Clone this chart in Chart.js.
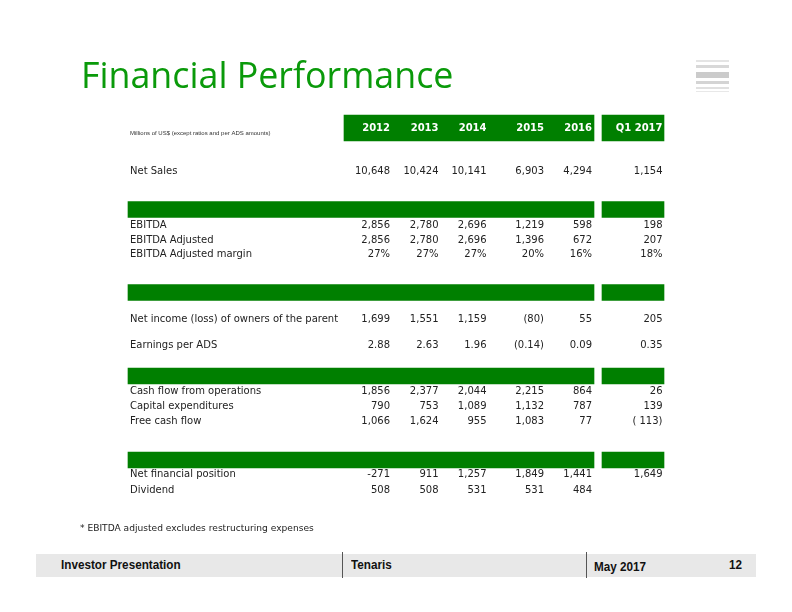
<!DOCTYPE html>
<html>
<head>
<meta charset="utf-8">
<script src="https://cdn.jsdelivr.net/npm/chart.js@4"></script>
<style>
  html, body { margin: 0; padding: 0; background: #fff; }
  #page { position: relative; width: 792px; height: 612px; overflow: hidden; }
  #c { position: absolute; left: 0; top: 0; }
  .title { position: absolute; left: 81px; top: 50px; font-family: "Open Sans", sans-serif; font-size: 35.8px; color: #0a9a0a; white-space: nowrap; }
  .stripe { position: absolute; left: 696px; width: 33px; }
  .note { position: absolute; left: 80px; top: 523px; font-family: "DejaVu Sans", sans-serif; font-size: 9.1px; color: #222; white-space: nowrap; }
  .footer { position: absolute; left: 36px; top: 554px; width: 720px; height: 23px; background: #e8e8e8; }
  .footer span { position: absolute; top: 3px; font-family: "Liberation Sans Narrow", "Liberation Sans", sans-serif; font-weight: bold; font-size: 13px; color: #111; white-space: nowrap; transform: scaleX(0.9); transform-origin: left center; }
  .sep { position: absolute; top: 552px; width: 1px; height: 26px; background: #555; }
</style>
</head>
<body>
<div id="page">
  <canvas id="c" width="792" height="612"></canvas>
  <div class="title">Financial Performance</div>
  <div class="stripe" style="top:60px;height:2px;background:#e4e4e4"></div>
  <div class="stripe" style="top:65px;height:3px;background:#d8d8d8"></div>
  <div class="stripe" style="top:72px;height:6px;background:#cbcbcb"></div>
  <div class="stripe" style="top:81px;height:3px;background:#d4d4d4"></div>
  <div class="stripe" style="top:87px;height:2px;background:#e0e0e0"></div>
  <div class="stripe" style="top:91px;height:1px;background:#e8e8e8"></div>
  <div class="note">* EBITDA adjusted excludes restructuring expenses</div>
  <div class="footer">
    <span style="left:25px">Investor Presentation</span>
    <span style="left:315px">Tenaris</span>
    <span style="left:558px;top:5px">May 2017</span>
    <span style="left:693px">12</span>
  </div>
  <div class="sep" style="left:342px"></div>
  <div class="sep" style="left:586px"></div>
</div>
<script>
// column headers
const years = ["2012", "2013", "2014", "2015", "2016", "Q1 2017"];

// row labels and how each row is printed
const rowLabels = [
  "Net Sales",
  "EBITDA",
  "EBITDA Adjusted",
  "EBITDA Adjusted margin",
  "Net income (loss) of owners of the parent",
  "Earnings per ADS",
  "Cash flow from operations",
  "Capital expenditures",
  "Free cash flow",
  "Net financial position",
  "Dividend"
];
const rowFormat = ["int", "int", "int", "pct", "int", "eps", "int", "int", "int", "minus", "int"];

// values per period, same order as rowLabels
const v2012 = [10648, 2856, 2856, 27, 1699, 2.88, 1856, 790, 1066, -271, 508];
const v2013 = [10424, 2780, 2780, 27, 1551, 2.63, 2377, 753, 1624, 911, 508];
const v2014 = [10141, 2696, 2696, 27, 1159, 1.96, 2044, 1089, 955, 1257, 531];
const v2015 = [6903, 1219, 1396, 20, -80, -0.14, 2215, 1132, 1083, 1849, 531];
const v2016 = [4294, 598, 672, 16, 55, 0.09, 864, 787, 77, 1441, 484];
const vQ1 = [1154, 198, 207, 18, 205, 0.35, 26, 139, -113, 1649, null];
const series = [v2012, v2013, v2014, v2015, v2016, vQ1];

// layout (page units)
const colRight = [390, 438.5, 486.5, 544, 592, 662.5];
const rowY = [171, 225, 240, 254.5, 319.5, 345, 391.5, 406.5, 421.5, 474.5, 490];
const headerY = 128;
const bandY = [209.5, 292.5, 376, 460];
const leftBlock = [128, 594];
const headBlock = [344, 594];
const rightBlock = [602, 664];
const green = "#007f00";

function fmt(v, kind, col) {
  if (v === null || v === undefined) return "";
  if (kind === "pct") return v + "%";
  if (kind === "eps") return v < 0 ? "(" + Math.abs(v).toFixed(2) + ")" : v.toFixed(2);
  if (kind === "minus") return v.toLocaleString("en-US");
  const s = Math.abs(v).toLocaleString("en-US");
  if (v < 0) return col === 5 ? "( " + s + ")" : "(" + s + ")";
  return s;
}

const tableText = {
  id: "tableText",
  afterDatasetsDraw(chart) {
    const ctx = chart.ctx;
    const x = chart.scales.x, y = chart.scales.y;
    ctx.save();
    ctx.textBaseline = "middle";

    // header years
    ctx.font = "bold 10px 'DejaVu Sans'";
    ctx.fillStyle = "#fff";
    ctx.textAlign = "right";
    years.forEach((yr, i) => ctx.fillText(yr, x.getPixelForValue(colRight[i]), y.getPixelForValue(headerY)));

    // units note
    ctx.font = "6px 'Liberation Sans'";
    ctx.fillStyle = "#333";
    ctx.textAlign = "left";
    ctx.fillText("Millions of US$ (except ratios and per ADS amounts)", x.getPixelForValue(130), y.getPixelForValue(133));

    // rows
    ctx.font = "10px 'DejaVu Sans'";
    ctx.fillStyle = "#222";
    rowLabels.forEach((lab, r) => {
      const py = y.getPixelForValue(rowY[r]);
      ctx.textAlign = "left";
      ctx.fillText(lab, x.getPixelForValue(130), py);
      ctx.textAlign = "right";
      series.forEach((vals, c) => {
        ctx.fillText(fmt(vals[r], rowFormat[r], c), x.getPixelForValue(colRight[c]), py);
      });
    });
    ctx.restore();
  }
};

const bandData = [];
bandY.forEach(b => {
  bandData.push({ y: b, x: leftBlock });
  bandData.push({ y: b, x: rightBlock });
});

new Chart(document.getElementById("c"), {
  type: "bar",
  data: {
    datasets: [
      {
        data: [{ y: headerY, x: headBlock }, { y: headerY, x: rightBlock }],
        backgroundColor: green,
        barThickness: 26,
        grouped: false
      },
      {
        data: bandData,
        backgroundColor: green,
        barThickness: 16,
        grouped: false
      }
    ]
  },
  options: {
    indexAxis: "y",
    responsive: false,
    devicePixelRatio: 1,
    animation: false,
    layout: { padding: 0 },
    plugins: { legend: { display: false }, tooltip: { enabled: false }, title: { display: false } },
    scales: {
      x: { type: "linear", min: 0, max: 792, display: false },
      y: { type: "linear", min: 0, max: 612, reverse: true, offset: false, display: false }
    }
  },
  plugins: [tableText]
});
</script>
</body>
</html>
